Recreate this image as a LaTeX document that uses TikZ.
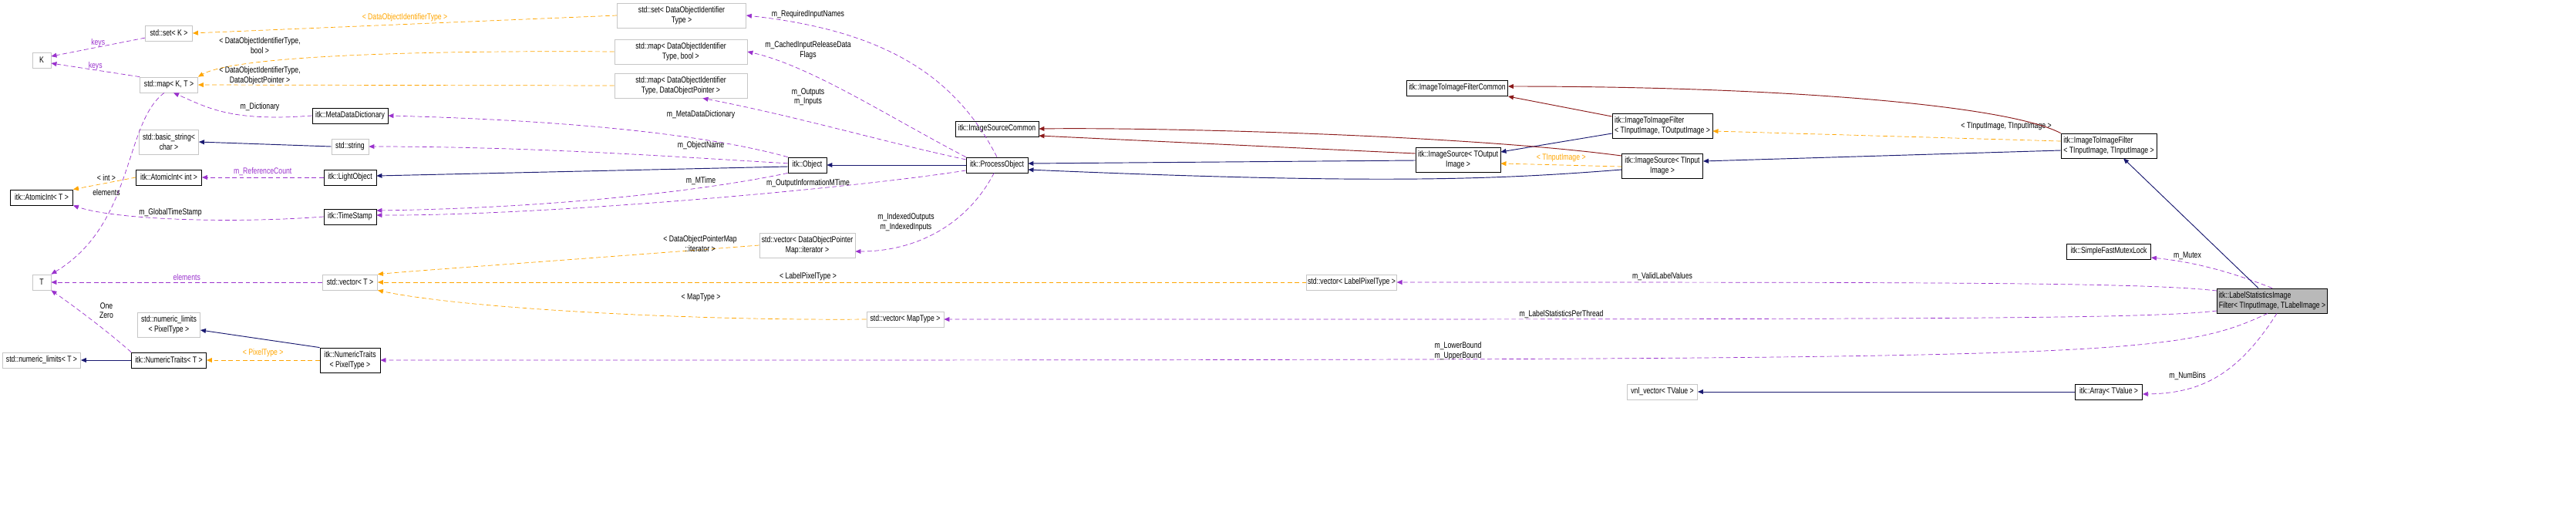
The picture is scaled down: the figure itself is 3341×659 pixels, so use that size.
\documentclass[tikz,border=0pt]{standalone}
\usepackage{fontspec}
\setmainfont{Liberation Sans}[FakeStretch=0.78]
\usetikzlibrary{arrows.meta}
\definecolor{usec}{HTML}{9A32CD}
\definecolor{tmplc}{HTML}{FFA500}
\definecolor{inhc}{HTML}{191970}
\definecolor{redc}{HTML}{8B1A1A}
\begin{document}
\begin{tikzpicture}[x=0.03cm,y=-0.03cm,
  nd/.style={draw=black,line width=0.7pt,fill=white,inner sep=1pt,align=center,font=\fontsize{9.5}{10.5}\selectfont,minimum height=0.6cm},
  ext/.style={nd,draw=gray!45},
  two/.style={minimum height=0.96cm},
  w/.style={minimum width=#1*0.03cm},
  lb/.style={font=\fontsize{9.5}{10.5}\selectfont,align=center,inner sep=0pt},
  use/.style={usec,dash pattern=on 5pt off 3pt,line width=0.6pt,-{Triangle[length=6pt,width=5pt]}},
  tpl/.style={tmplc,dash pattern=on 5pt off 3pt,line width=0.6pt,-{Triangle[length=6pt,width=5pt]}},
  inh/.style={inhc,line width=0.8pt,-{Triangle[length=6pt,width=5pt]}},
  redl/.style={redc,line width=0.8pt,-{Triangle[length=6pt,width=5pt]}}]
\useasboundingbox (0,0) rectangle (3341,659);
% nodes
\node[ext,w=24] (K) at (54,78) {K};
\node[ext,w=61] (setK) at (219,43) {std::set< K >};
\node[ext,w=75] (mapKT) at (219,110) {std::map< K, T >};
\node[nd,w=98] (mdd) at (454,150) {itk::MetaDataDictionary};
\node[ext,two,w=77] (bstr) at (219,184) {std::basic\_string<\\char >};
\node[ext,w=48] (str) at (454,190) {std::string};
\node[nd,w=85] (aint) at (219,230) {itk::AtomicInt< int >};
\node[nd,w=68] (lobj) at (454,230) {itk::LightObject};
\node[nd,w=81] (aT) at (54,256) {itk::AtomicInt< T >};
\node[nd,w=68] (ts) at (454,281) {itk::TimeStamp};
\node[ext,w=24] (T) at (54,366) {T};
\node[ext,w=71] (vecT) at (454,366) {std::vector< T >};
\node[ext,two,w=81] (nlP) at (219,421) {std::numeric\_limits\\< PixelType >};
\node[ext,w=101] (nlT) at (54,467) {std::numeric\_limits< T >};
\node[nd,w=97] (ntT) at (219,467) {itk::NumericTraits< T >};
\node[nd,two,w=78] (ntP) at (454,467) {itk::NumericTraits\\< PixelType >};
\node[ext,two,w=167] (setD) at (884,20) {std::set< DataObjectIdentifier\\Type >};
\node[ext,two,w=172] (mapB) at (883,67) {std::map< DataObjectIdentifier\\Type, bool >};
\node[ext,two,w=172] (mapP) at (883,111) {std::map< DataObjectIdentifier\\Type, DataObjectPointer >};
\node[nd,w=50] (obj) at (1047,214) {itk::Object};
\node[nd,w=108] (isc) at (1293,167) {itk::ImageSourceCommon};
\node[nd,w=80] (po) at (1293,214) {itk::ProcessObject};
\node[ext,two,w=124] (vecD) at (1047,318) {std::vector< DataObjectPointer\\Map::iterator >};
\node[ext,w=100] (vecM) at (1174,414) {std::vector< MapType >};
\node[ext,w=116] (vecL) at (1753,366) {std::vector< LabelPixelType >};
\node[nd,w=131] (itifc) at (1890,114) {itk::ImageToImageFilterCommon};
\node[nd,two,w=130,align=left] (itifO) at (2156,163) {itk::ImageToImageFilter\\< TInputImage, TOutputImage >};
\node[nd,two,w=110] (isO) at (1891,207) {itk::ImageSource< TOutput\\Image >};
\node[nd,two,w=105] (isI) at (2156,215) {itk::ImageSource< TInput\\Image >};
\node[ext,w=91] (vnl) at (2156,508) {vnl\_vector< TValue >};
\node[nd,two,w=124,align=left] (itifI) at (2735,189) {itk::ImageToImageFilter\\< TInputImage, TInputImage >};
\node[nd,w=109] (mutex) at (2735,326) {itk::SimpleFastMutexLock};
\node[nd,two,w=143,fill=gray!55,align=left] (lsif) at (2947,390) {itk::LabelStatisticsImage\\Filter< TInputImage, TLabelImage >};
\node[nd,w=87] (arr) at (2735,508) {itk::Array< TValue >};
% usage edges
\draw[use] (setK) -- (K.east |- 0,73) node[lb,pos=0.5,above] {keys};
\draw[use] (mapKT.north west) -- (K.east |- 0,82) node[lb,pos=0.5,above] {keys};
\draw[use] (mapKT.240) .. controls (160,160) and (175,290) .. (T.north east);
\node[lb] at (138,250) {elements};
\draw[use] (mdd.west) .. controls (300,158) and (270,140) .. (mapKT.300);
\node[lb] at (337,139) {m\_Dictionary};
\draw[use] (obj.north west) .. controls (900,170) and (700,155) .. (mdd.east);
\node[lb] at (909,149) {m\_MetaDataDictionary};
\draw[use] (obj.175) .. controls (900,205) and (700,190) .. (str.east);
\node[lb] at (909,189) {m\_ObjectName};
\draw[use] (lobj) -- (aint) node[lb,pos=0.5,above=2pt] {m\_ReferenceCount};
\draw[use] (obj.south west) .. controls (900,250) and (700,270) .. (ts.east |- 0,273);
\node[lb] at (909,235) {m\_MTime};
\draw[use] (po.west |- 0,221) .. controls (1100,245) and (700,280) .. (ts.east |- 0,279);
\node[lb] at (1048,238) {m\_OutputInformationMTime};
\draw[use] (ts.west) .. controls (300,290) and (150,285) .. (aT.south east);
\node[lb] at (221,276) {m\_GlobalTimeStamp};
\draw[use] (vecT) -- (T) node[lb,pos=0.5,above=2pt] {elements};
\draw[use] (ntT.north west) .. controls (140,430) and (100,400) .. (T.south east);
\node[lb] at (138,403) {One\\Zero};
\draw[use] (po.north) .. controls (1240,100) and (1150,40) .. (setD.east);
\node[lb] at (1048,19) {m\_RequiredInputNames};
\draw[use] (po.north west) .. controls (1150,150) and (1050,85) .. (mapB.east);
\node[lb] at (1048,65) {m\_CachedInputReleaseData\\Flags};
\draw[use] (po.170) .. controls (1150,185) and (1030,150) .. (mapP.330);
\node[lb] at (1048,126) {m\_Outputs\\m\_Inputs};
\draw[use] (po.250) .. controls (1255,290) and (1190,326) .. (vecD.east |- 0,326);
\node[lb] at (1175,288) {m\_IndexedOutputs\\m\_IndexedInputs};
\draw[use] (lsif.north) .. controls (2900,355) and (2850,340) .. (mutex.east |- 0,334);
\node[lb] at (2837,332) {m\_Mutex};
\draw[use] (lsif.west |- 0,377) .. controls (2780,366) and (2500,366) .. (vecL.east);
\node[lb] at (2156,359) {m\_ValidLabelValues};
\draw[use] (lsif.west |- 0,403) .. controls (2780,414) and (2500,414) .. (vecM.east);
\node[lb] at (2025,408) {m\_LabelStatisticsPerThread};
\draw[use] (lsif.250) .. controls (2810,467) and (2750,467) .. (ntP.east);
\node[lb] at (1891,455) {m\_LowerBound\\m\_UpperBound};
\draw[use] (lsif.290) .. controls (2900,490) and (2850,510) .. (arr.east |- 0,511);
\node[lb] at (2837,488) {m\_NumBins};
% template edges
\draw[tpl] (setD.west) -- (setK.east) node[lb,pos=0.5,above=3pt] {< DataObjectIdentifierType >};
\draw[tpl] (mapB.west) .. controls (500,65) and (300,75) .. (mapKT.north east);
\node[lb] at (337,59) {< DataObjectIdentifierType,\\bool >};
\draw[tpl] (mapP.west) -- (mapKT.east);
\node[lb] at (337,98) {< DataObjectIdentifierType,\\DataObjectPointer >};
\draw[tpl] (aint.west) -- (aT.north east);
\node[lb] at (138,231) {< int >};
\draw[tpl] (vecD.west) .. controls (700,340) and (550,350) .. (vecT.north east);
\node[lb] at (908,316) {< DataObjectPointerMap\\::iterator >};
\draw[tpl] (vecL.west) -- (vecT.east);
\node[lb] at (1048,359) {< LabelPixelType >};
\draw[tpl] (vecM.west) .. controls (900,416) and (600,400) .. (vecT.south east);
\node[lb] at (909,386) {< MapType >};
\draw[tpl] (ntP.west) -- (ntT.east) node[lb,pos=0.5,above=3pt] {< PixelType >};
\draw[tpl] (isI.west |- 0,216) -- (isO.east |- 0,212) node[lb,pos=0.5,above=3pt] {< TInputImage >};
\draw[tpl] (itifI.west |- 0,183) -- (itifO.east |- 0,170);
\node[lb] at (2602,164) {< TInputImage, TInputImage >};
% inheritance edges
\draw[inh] (str.west) -- (bstr.east);
\draw[inh] (obj.west |- 0,216) -- (lobj.east |- 0,228);
\draw[inh] (po.west) -- (obj.east);
\draw[inh] (ntT.west) -- (nlT.east);
\draw[inh] (ntP.north west) -- (nlP.east |- 0,428);
\draw[inh] (isO.west |- 0,208) -- (po.east |- 0,212);
\draw[inh] (isI.west |- 0,220) .. controls (1950,232) and (1800,240) .. (po.east |- 0,220);
\draw[inh] (itifO.west |- 0,173) -- (isO.east |- 0,197);
\draw[inh] (itifI.west |- 0,195) -- (isI.east |- 0,209);
\draw[inh] ([xshift=-0.54cm]lsif.north) -- ([xshift=0.57cm]itifI.south);
\draw[inh] (arr.west) -- (vnl.east);
% red edges
\draw[redl] (isO.west |- 0,199) -- (isc.east |- 0,176);
\draw[redl] (isI.west |- 0,202) .. controls (1900,175) and (1500,165) .. (isc.east |- 0,167);
\draw[redl] (itifO.west |- 0,151) -- (itifc.east |- 0,125);
\draw[redl] (itifI.north west) .. controls (2600,135) and (2300,112) .. (itifc.east |- 0,112);
\end{tikzpicture}
\end{document}
